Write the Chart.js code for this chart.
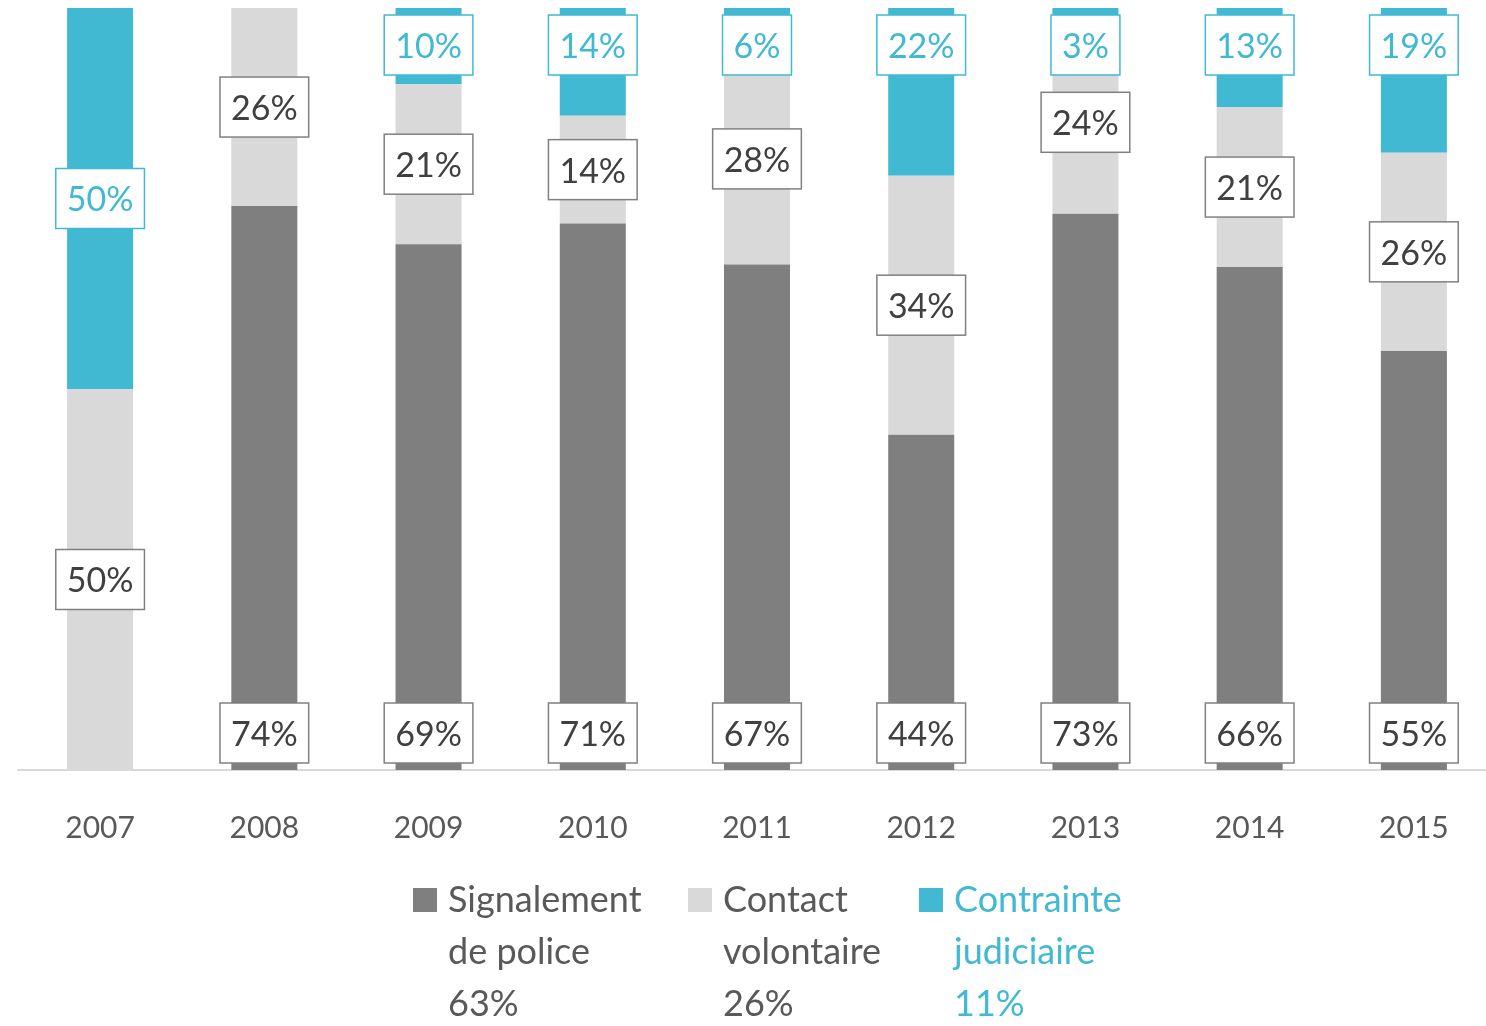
<!DOCTYPE html>
<html>
<head>
<meta charset="utf-8">
<script src="https://cdn.jsdelivr.net/npm/chart.js@4.4.1/dist/chart.umd.min.js"></script>
<style>
    html, body { margin: 0; padding: 0; background: #fff; overflow: hidden; }
    #wrap { width: 1496px; height: 1026px; position: relative; }
</style>
</head>
<body>
<div id="wrap"><canvas id="bar-chart"></canvas></div>
<script>
const years = ["2007", "2008", "2009", "2010", "2011", "2012", "2013", "2014", "2015"];
const police = [0, 74, 69, 71, 67, 44, 73, 66, 55];
const volontaire = [50, 26, 21, 14, 28, 34, 24, 21, 26];
const judiciaire = [50, 0, 10, 14, 6, 22, 3, 13, 19];
const seriesNames = [["Signalement", "de police"], ["Contact", "volontaire"], ["Contrainte", "judiciaire"]];
const legendTotals = ["63%", "26%", "11%"];

const colors = ["#7f7f7f", "#d9d9d9", "#41b9d3"];
const textColors = ["#595959", "#595959", "#41b9d3"];
const labelColors = ["#404040", "#404040", "#41b9d3"];
const boxBorders = ["#808080", "#808080", "#41b9d3"];
// where the value box sits on each segment
const anchors = [
    years.map(() => 'start'),
    years.map(() => 'center'),
    years.map((y, i) => i === 0 ? 'center' : 'end')
];
const FONT = "Lato, 'Open Sans', sans-serif";

// 100% stacked: each year is scaled to its own total, labels keep the raw values
const raw = [police, volontaire, judiciaire];
const totals = years.map((y, i) => police[i] + volontaire[i] + judiciaire[i]);
const share = arr => arr.map((v, i) => v / totals[i] * 100);

const valueBoxes = {
    id: 'valueBoxes',
    afterDatasetsDraw(chart) {
        const ctx = chart.ctx;
        ctx.save();
        ctx.font = "34px " + FONT;
        ctx.textAlign = 'center';
        ctx.textBaseline = 'middle';
        chart.data.datasets.forEach((ds, di) => {
            chart.getDatasetMeta(di).data.forEach((bar, i) => {
                const v = raw[di][i];
                if (!v) return;
                const txt = v + '%';
                const w = ctx.measureText(txt).width + 22;
                const h = 60;
                const top = Math.min(bar.y, bar.base), bottom = Math.max(bar.y, bar.base);
                let cy;
                if (anchors[di][i] === 'start') cy = bottom - 7 - h / 2;
                else if (anchors[di][i] === 'end') cy = top + 7 + h / 2;
                else cy = (top + bottom) / 2;
                ctx.fillStyle = '#fff';
                ctx.fillRect(bar.x - w / 2, cy - h / 2, w, h);
                ctx.lineWidth = 1.5;
                ctx.strokeStyle = boxBorders[di];
                ctx.strokeRect(bar.x - w / 2, cy - h / 2, w, h);
                ctx.fillStyle = labelColors[di];
                ctx.fillText(txt, bar.x, cy + 2);
            });
        });
        ctx.restore();
    }
};

const bottomLegend = {
    id: 'bottomLegend',
    afterDraw(chart) {
        const ctx = chart.ctx;
        const xs = [413, 688, 919];
        ctx.save();
        ctx.font = "36px " + FONT;
        ctx.textBaseline = 'middle';
        ctx.textAlign = 'left';
        chart.data.datasets.forEach((ds, di) => {
            ctx.fillStyle = colors[di];
            ctx.fillRect(xs[di], 888, 24, 24);
            ctx.fillStyle = textColors[di];
            const lines = seriesNames[di].concat([legendTotals[di]]);
            lines.forEach((t, li) => ctx.fillText(t, xs[di] + 35, 900 + li * 52));
        });
        ctx.restore();
    }
};

new Chart(document.getElementById("bar-chart"), {
    type: 'bar',
    data: {
        labels: years,
        datasets: [
            { label: seriesNames[0].join(' '), data: share(police), backgroundColor: colors[0] },
            { label: seriesNames[1].join(' '), data: share(volontaire), backgroundColor: colors[1] },
            { label: seriesNames[2].join(' '), data: share(judiciaire), backgroundColor: colors[2] }
        ]
    },
    options: {
        responsive: true,
        maintainAspectRatio: false,
        animation: false,
        layout: { padding: { top: 8, left: 18, right: 0, bottom: 140 } },
        datasets: { bar: { categoryPercentage: 1, barPercentage: 0.402 } },
        scales: {
            x: {
                stacked: true,
                grid: { display: false, drawTicks: false },
                border: { display: true, color: '#d9d9d9', width: 2 },
                ticks: { color: '#595959', font: { family: FONT, size: 30 }, padding: 40 }
            },
            y: {
                stacked: true,
                display: false,
                min: 0,
                max: 100
            }
        },
        plugins: {
            legend: { display: false },
            tooltip: { enabled: false }
        }
    },
    plugins: [valueBoxes, bottomLegend]
});
</script>
</body>
</html>
